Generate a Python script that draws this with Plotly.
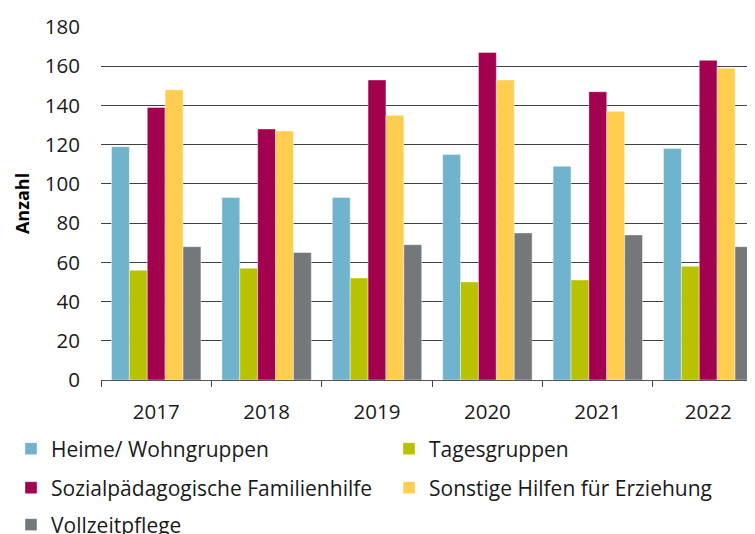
import plotly.graph_objects as go

years = ["2017", "2018", "2019", "2020", "2021", "2022"]
heime = [119, 93, 93, 115, 109, 118]
tages = [56, 57, 52, 50, 51, 58]
spfh = [139, 128, 153, 167, 147, 163]
sonstige = [148, 127, 135, 153, 137, 159]
vollzeit = [68, 65, 69, 75, 74, 68]

series = [
    ("Heime/ Wohngruppen", heime, "#6fb3cd"),
    ("Tagesgruppen", tages, "#b9c200"),
    ("Sozialpädagogische Familienhilfe", spfh, "#a3004f"),
    ("Sonstige Hilfen für Erziehung", sonstige, "#ffcd50"),
    ("Vollzeitpflege", vollzeit, "#75787b"),
]

FONT = "Open Sans"
# the page adds an 8px body margin, so the figure is 8px smaller than the window
W, H = 747, 526

# legend slot positions (figure pixels): (left x, middle y)
legend_ids = ["legend", "legend2", "legend3", "legend4", "legend5"]
legend_pos = [(3, 441), (381, 441), (3, 480), (381, 480), (3, 517)]

fig = go.Figure()
for (name, vals, color), lg in zip(series, legend_ids):
    fig.add_trace(go.Bar(
        x=years, y=vals, name=name, legend=lg,
        marker=dict(color=color, line=dict(width=0.6, color="rgba(255,255,255,0.7)")),
    ))

def leg(px_x, px_y):
    return dict(
        xref="container", yref="container",
        x=px_x / W, y=1 - px_y / H, xanchor="left", yanchor="middle",
        orientation="h",
        font=dict(family=FONT, size=21, color="#1a1a1a"),
        bgcolor="rgba(0,0,0,0)", borderwidth=0, itemclick=False,
    )

legends = {lg: leg(*p) for lg, p in zip(legend_ids, legend_pos)}

fig.update_layout(
    width=W, height=H,
    margin=dict(l=93, r=0, t=19, b=154, autoexpand=False),
    paper_bgcolor="white", plot_bgcolor="white",
    font=dict(family=FONT, size=21, color="#1a1a1a"),
    barmode="group", bargap=0.19, bargroupgap=0,
    showlegend=True,
    **legends,
    xaxis=dict(
        range=[-0.5, 5.424], tickson="boundaries", ticks="outside",
        ticklen=6, tickcolor="#444444", tickwidth=1,
        showline=True, linecolor="#555555", linewidth=1,
        showgrid=False, ticklabelstandoff=13,
        tickfont=dict(family=FONT, size=20.5, color="#1a1a1a"),
    ),
    yaxis=dict(
        range=[0, 180], tickvals=[0, 20, 40, 60, 80, 100, 120, 140, 160, 180],
        showgrid=True, gridcolor="#404040", gridwidth=1,
        zeroline=False, showline=False, ticks="",
        ticklabelstandoff=20,
        tickfont=dict(family=FONT, size=20.5, color="#1a1a1a"),
        title=dict(text="<b>Anzahl</b>", standoff=10,
                   font=dict(family=FONT, size=18, color="#000000")),
    ),
)

fig.write_html("out.html")
